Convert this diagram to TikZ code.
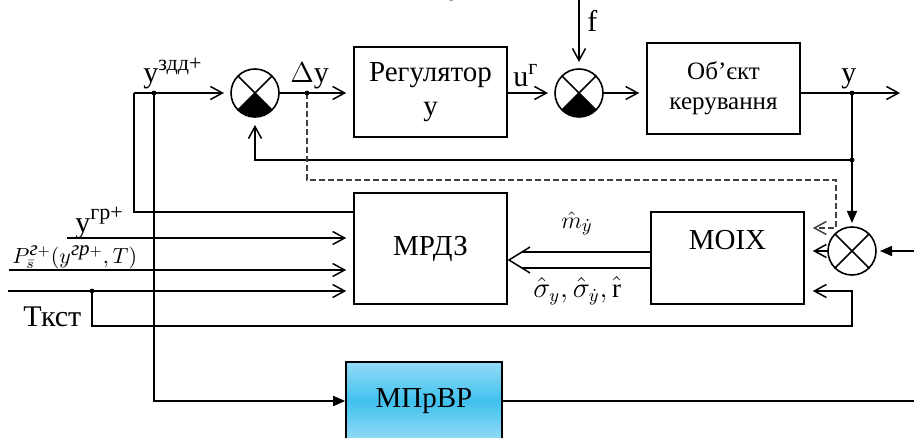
\documentclass[tikz,border=0pt]{standalone}
\usepackage{fontspec}
\setmainfont{Liberation Serif}
\usetikzlibrary{arrows.meta,calc}

\definecolor{mpLight}{HTML}{93DBF6}
\definecolor{mpMid}{HTML}{40C1EE}

\tikzset{
  blk/.style={draw,line width=0.8pt,inner sep=0pt,align=center,font=\fontsize{14.5}{17}\selectfont},
  summ/.style={draw,circle,line width=0.8pt,minimum size=24pt,inner sep=0pt,outer sep=0pt},
  lbl/.style={inner sep=0pt,font=\fontsize{15}{17}\selectfont},
  ln/.style={line width=0.75pt},
  sig/.style={ln,-{Straight Barb[length=6pt,width=6.5pt]},shorten >=3.5pt},
  sigf/.style={ln,-{Triangle[length=6pt,width=5pt]},shorten >=2pt},
  dsh/.style={line width=0.6pt,draw=black!75,dash pattern=on 3pt off 1.5pt},
}
\newcommand{\SumB}[2]{\node[summ] (#1) at (#2) {};
  \fill (#1.center) -- (#1.-135) arc[start angle=-135,end angle=-45,radius=12pt] -- cycle;
  \draw[line width=0.8pt] (#1.45) -- (#1.-135) (#1.135) -- (#1.-45);}
\newcommand{\SumX}[2]{\node[summ] (#1) at (#2) {};
  \draw[line width=0.8pt] (#1.45) -- (#1.-135) (#1.135) -- (#1.-45);}
\newcommand{\Dot}[1]{\fill (#1) circle (1.2pt);}
\newcommand{\Sup}[1]{\raisebox{0.42em}{\fontsize{11}{12}\selectfont #1}}

\begin{document}
\begin{tikzpicture}[x=0.5pt,y=-0.5pt]
  \useasboundingbox (0,0) rectangle (914,438);
  % blocks
  \node[blk,minimum width=76.5pt,minimum height=45pt] (reg) at (430.5,92) {Регулятор\\у};
  \node[blk,minimum width=76.5pt,minimum height=45.5pt,font=\fontsize{12.5}{15}\selectfont] (obj) at (723.5,88.5) {Об’єкт\\керування};
  \node[blk,minimum width=76.5pt,minimum height=55.5pt] (mrdz) at (430.5,248.5) {МРДЗ};
  \node[blk,minimum width=76.5pt,minimum height=46pt] (moix) at (727.5,258) {МОІХ\\[1pt]\mbox{}};
  \node[blk,minimum width=78pt,minimum height=39pt,top color=mpLight,bottom color=mpLight,middle color=mpMid] (mpr) at (424,401) {МПрВР};
  \SumB{s1}{255,93}
  \SumB{s2}{579,93}
  \SumX{s3}{852,251}
  % points
  \coordinate (yzd) at (134,93);
  \coordinate (d1) at (154,93);
  \coordinate (d2) at (307,93);
  \coordinate (d3) at (852,93);
  \coordinate (d4) at (852,160);
  \coordinate (d5) at (92,291);
  \coordinate (fin) at (579,0);
  \coordinate (yout) at (900,93);
  \coordinate (rin) at (914,251);
  \coordinate (ygr) at (67,238);
  \coordinate (pin) at (9,270);
  \coordinate (tin) at (8,291);
  \coordinate (vout) at (914,401);
  \coordinate (dtip) at (509,260);
  % top loop
  \draw[sig] (yzd) -- (s1.west);
  \draw[sig] (s1.east) -- (s1.east -| reg.west);
  \draw[sig] (reg.east |- s2.west) -- (s2.west);
  \draw[sig] (fin) -- (s2.north);
  \draw[sig] (s2.east) -- (s2.east -| obj.west);
  \draw[sig,shorten >=0pt] (obj.east |- yout) -- (yout);
  \draw[sig,shorten >=4pt] (d4) -| (s1.south);
  \draw[sigf] (d3) -- (s3.north);
  \draw[sigf] (rin) -- (s3.east);
  \draw[sig,shorten >=4pt] (s3.west) -- (s3.west -| moix.east);
  \draw[dsh,sig,shorten >=4pt] (d2) -- (307,180) -| (836,228) -- (moix.east |- 0,228);
  % inputs of MRDZ
  \draw[ln] (yzd) |- (mrdz.west |- 0,212);
  \draw[sig] (ygr) -- (ygr -| mrdz.west);
  \draw[sig] (pin) -- (pin -| mrdz.west);
  \draw[sig] (tin) -- (tin -| mrdz.west);
  \draw[sig,shorten >=4pt] (d5) -- (92,326) -| (852,291) -- (moix.east |- 0,291);
  \draw[sigf,shorten >=0pt] (d1) |- (mpr.west);
  \draw[ln] (mpr.east) -- (vout);
  % MOIX -> MRDZ
  \draw[ln] (moix.west |- 0,252) -- (522,252);
  \draw[ln] (moix.west |- 0,268) -- (522,268);
  \draw[ln] ($(dtip)+(21,-13)$) -- (dtip) -- ($(dtip)+(21,13)$);
  \foreach \p in {d1,d2,d3,d4,d5}{\Dot{\p}}
  % labels
  \node[lbl,anchor=base] (ytop) at (456,-5) {у};
  \node[lbl,anchor=base west] (lzd) at (143,83) {у\Sup{здд+}};
  \node[lbl,anchor=base west] (ldy) at (290,83) {$\Delta$у};
  \node[lbl,anchor=base west] (lug) at (513,87) {u\Sup{г}};
  \node[lbl,anchor=base west] (lf) at (587,32) {f};
  \node[lbl,anchor=base west] (ly) at (841,83) {у};
  \node[lbl,anchor=base west] (lgr) at (75,232) {у\Sup{гр+}};
  \node[inner sep=0pt,anchor=base west,font=\fontsize{10.5}{12}\selectfont] (lp) at (12,263)
    {$P^{\textit{г}+}_{\bar s}(y^{\textit{гр}+},T)$};
  \node[lbl,anchor=base west] (lt) at (23,326) {Ткст};
  \node[inner sep=0pt,anchor=base,font=\fontsize{13}{15}\selectfont] (lm) at (577,228) {$\hat m_{\dot y}$};
  \node[inner sep=0pt,anchor=base west,font=\fontsize{13.5}{15}\selectfont] (ls) at (533,297)
    {$\hat\sigma_{y},\hat\sigma_{\dot y},\hat{\mathrm{r}}$};
\end{tikzpicture}
\end{document}
